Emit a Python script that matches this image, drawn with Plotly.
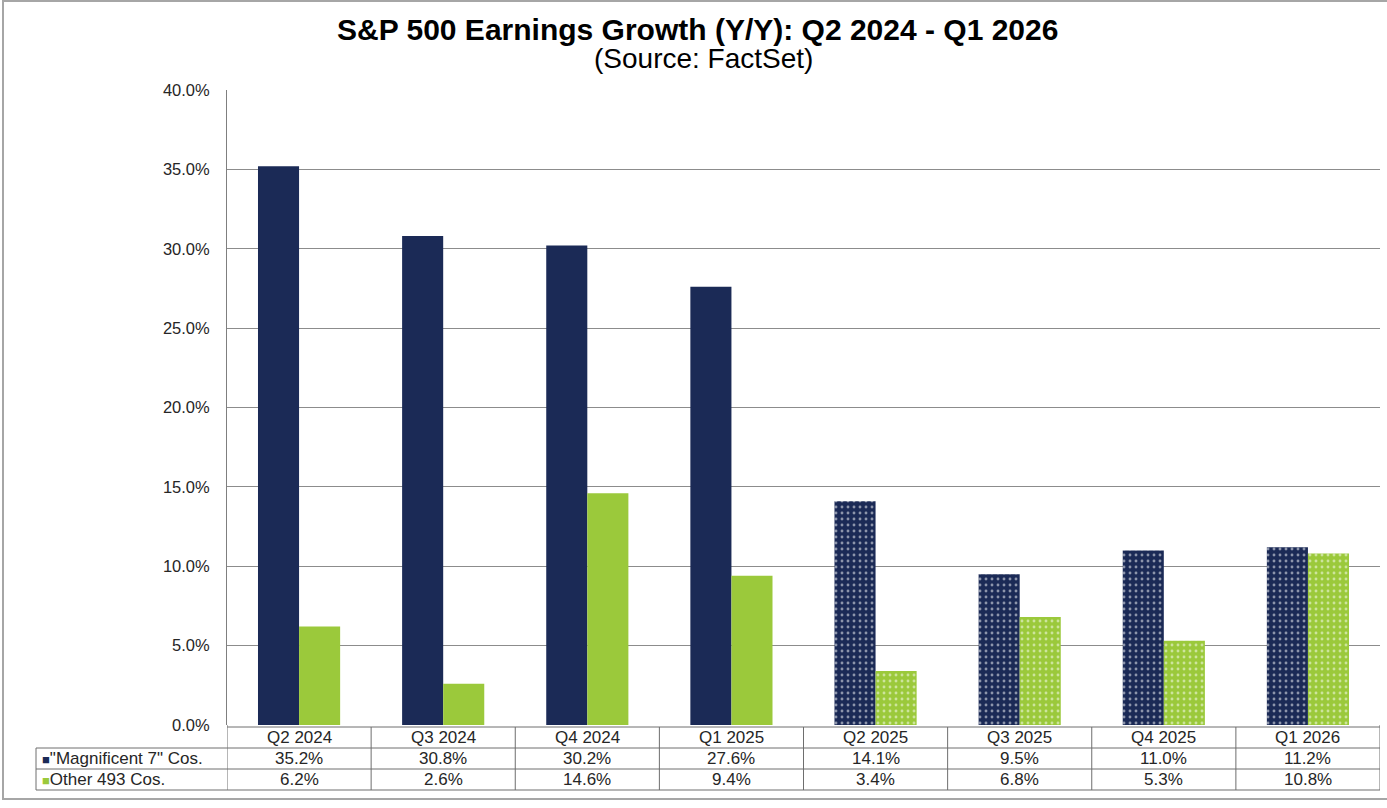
import plotly.graph_objects as go

# ---- data ----
quarters = ["Q2 2024", "Q3 2024", "Q4 2024", "Q1 2025", "Q2 2025", "Q3 2025", "Q4 2025", "Q1 2026"]
mag7 = [35.2, 30.8, 30.2, 27.6, 14.1, 9.5, 11.0, 11.2]
other493 = [6.2, 2.6, 14.6, 9.4, 3.4, 6.8, 5.3, 10.8]
is_estimate = [False, False, False, False, True, True, True, True]
series_names = ['"Magnificent 7" Cos.', "Other 493 Cos."]
y_ticks = [0, 5, 10, 15, 20, 25, 30, 35, 40]

NAVY = "#1B2A56"
GREEN = "#9BC93B"
FONT = "Liberation Sans, Arial, sans-serif"
TXT = "#262626"

W, H = 1387, 808
L, R, T, B = 227, 7, 90, 83
PH = H - T - B
PW = W - L - R


def py(p):  # pixel y -> paper y
    return (H - B - p) / PH


def px(p):  # pixel x -> paper x
    return (p - L) / PW


pattern_shapes = ["." if e else "" for e in is_estimate]

fig = go.Figure()
for name, vals, col in [(series_names[0], mag7, NAVY), (series_names[1], other493, GREEN)]:
    fig.add_trace(go.Bar(
        x=quarters, y=vals, name=name,
        marker=dict(color=col, line=dict(width=0),
                    pattern=dict(shape=pattern_shapes, fgcolor="white", bgcolor=col,
                                 size=6, solidity=0.18)),
        hoverinfo="skip",
    ))

fig.update_layout(
    width=W, height=H,
    margin=dict(l=L, r=R, t=T, b=B),
    paper_bgcolor="white", plot_bgcolor="white",
    barmode="group", bargap=0.43, bargroupgap=0,
    showlegend=False,
    font=dict(family=FONT, color=TXT),
)
fig.update_xaxes(type="category", range=[-0.5, len(quarters) - 0.5],
                 showticklabels=False, showgrid=False, zeroline=False,
                 showline=False, ticks="")
fig.update_yaxes(range=[0, 40], tickvals=y_ticks,
                 ticktext=[f"{v:.1f}%" for v in y_ticks],
                 tickfont=dict(size=16.5, family=FONT, color=TXT),
                 showgrid=True, gridcolor="#8C8C8C", gridwidth=1,
                 zeroline=False, showline=True, linecolor="#7F7F7F", linewidth=1,
                 ticks="", ticklabelstandoff=13)

shapes = []
LC = "#6E6E6E"
row_lines = [py(727), py(748), py(769), py(790)]
# horizontal table lines
shapes.append(dict(type="line", xref="paper", yref="paper", x0=0, x1=1,
                   y0=row_lines[0], y1=row_lines[0], line=dict(color=LC, width=1)))
for yl in row_lines[1:]:
    shapes.append(dict(type="line", xref="paper", yref="paper", x0=px(36), x1=1,
                       y0=yl, y1=yl, line=dict(color=LC, width=1)))
# vertical table lines at category boundaries
for i in range(len(quarters) + 1):
    shapes.append(dict(type="line", xref="x", yref="paper", x0=i - 0.5, x1=i - 0.5,
                       y0=row_lines[-1], y1=row_lines[0] if 0 < i < len(quarters) else 0,
                       line=dict(color=LC, width=1)))
shapes.append(dict(type="line", xref="paper", yref="paper", x0=px(36), x1=px(36),
                   y0=row_lines[-1], y1=row_lines[1], line=dict(color=LC, width=1)))
# outer chart border
shapes.append(dict(type="rect", xref="paper", yref="paper", x0=px(3), x1=px(1392),
                   y0=py(799), y1=py(1), line=dict(color="#A6A6A6", width=2),
                   fillcolor="rgba(0,0,0,0)", layer="below"))
fig.update_layout(shapes=shapes)

ann = []
ann.append(dict(text="<b>S&P 500 Earnings Growth (Y/Y): Q2 2024 - Q1 2026</b>",
                xref="paper", yref="paper", x=px(697), y=py(30), showarrow=False,
                xanchor="center", yanchor="middle",
                font=dict(size=30, family=FONT, color="#000000")))
ann.append(dict(text="(Source: FactSet)", xref="paper", yref="paper", x=px(703), y=py(58),
                showarrow=False, xanchor="center", yanchor="middle",
                font=dict(size=28, family=FONT, color="#000000")))
row_centers = [py(737.5), py(758.5), py(779.5)]
CF = 17
for i, q in enumerate(quarters):
    ann.append(dict(text=q, xref="x", yref="paper", x=i, y=row_centers[0], showarrow=False,
                    xanchor="center", yanchor="middle", font=dict(size=CF, family=FONT, color=TXT)))
    ann.append(dict(text=f"{mag7[i]:.1f}%", xref="x", yref="paper", x=i, y=row_centers[1],
                    showarrow=False, xanchor="center", yanchor="middle",
                    font=dict(size=CF, family=FONT, color=TXT)))
    ann.append(dict(text=f"{other493[i]:.1f}%", xref="x", yref="paper", x=i, y=row_centers[2],
                    showarrow=False, xanchor="center", yanchor="middle",
                    font=dict(size=CF, family=FONT, color=TXT)))
for name, col, yc in [(series_names[0], NAVY, row_centers[1]), (series_names[1], GREEN, row_centers[2])]:
    ann.append(dict(text=f"<span style='color:{col};font-size:13px'>■</span>{name}",
                    xref="paper", yref="paper",
                    x=px(40), y=yc, showarrow=False, xanchor="left", yanchor="middle",
                    font=dict(size=CF, family=FONT, color=TXT)))
fig.update_layout(annotations=ann)

fig.write_html("out.html", config={"displayModeBar": False},
               post_script="document.body.style.margin='0';document.body.style.overflow='hidden';")
